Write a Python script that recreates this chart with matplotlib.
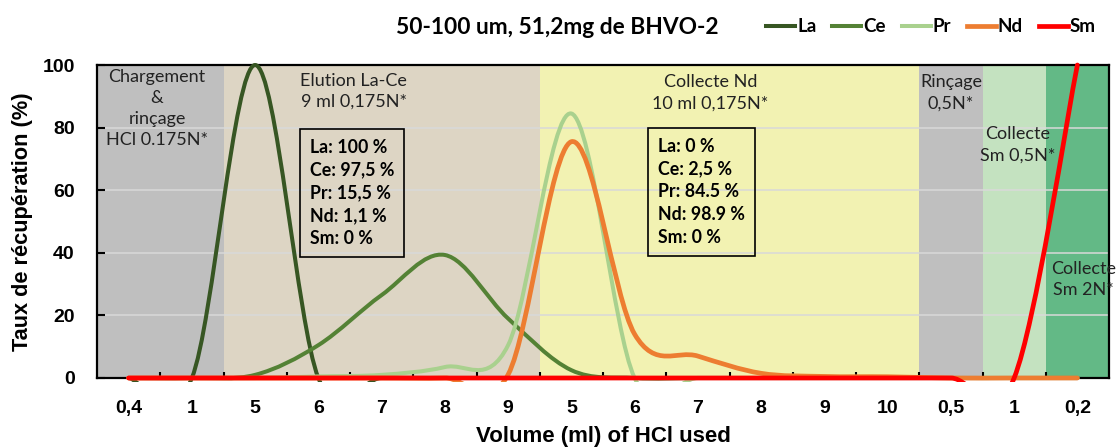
import numpy as np
import matplotlib
matplotlib.use("Agg")
import matplotlib.pyplot as plt
from matplotlib.path import Path
from matplotlib.patches import PathPatch, Rectangle
from matplotlib.lines import Line2D

# categories on the x axis (volumes of each fraction)
categories = ["0,4", "1", "5", "6", "7", "8", "9", "5", "6", "7", "8", "9", "10", "0,5", "1", "0,2"]

# recovery (%) per fraction
la = [0, 0, 100, 0, 0, 0, 0, 0, 0, 0, 0, 0, 0, 0, 0, 0]
ce = [0, 0, 1, 10.5, 26.5, 39.3, 19, 2.5, 0, 0, 0, 0, 0, 0, 0, 0]
pr = [0, 0, 0, 0.5, 1, 3.5, 10.5, 84.5, 0, 0, 0, 0, 0, 0, 0, 0]
nd = [0, 0, 0, 0, 0, 0, 1.1, 75.5, 14, 7, 1.5, 0.5, 0.4, 0, 0, 0]
sm = [0, 0, 0, 0, 0, 0, 0, 0, 0, 0, 0, 0, 0, 0, 0, 100]

series_names = ["La", "Ce", "Pr", "Nd", "Sm"]
series_colors = ["#375623", "#548235", "#A9D18E", "#ED7D31", "#FF0000"]
series_widths = [2.9, 2.9, 2.9, 3.4, 3.4]

# shaded steps: (first category, last category, colour)
steps_start = [0, 2, 7, 13, 14, 15]
steps_end = [1, 6, 12, 13, 14, 15]
steps_colors = ["#BFBFBF", "#DDD5C4", "#F2F2B2", "#BFBFBF", "#C4E2C0", "#63B986"]

box_elution = "La: 100 %\nCe: 97,5 %\nPr: 15,5 %\nNd: 1,1 %\nSm: 0 %"
box_collecte = "La: 0 %\nCe: 2,5 %\nPr: 84.5 %\nNd: 98.9 %\nSm: 0 %"

LABEL_FONT = ["Liberation Sans Narrow", "Liberation Sans", "DejaVu Sans"]
TEXT_FONT = ["Lato", "DejaVu Sans"]


def smooth_path(ys):
    """Excel-like smoothed line: cubic bezier through every category point."""
    pts = np.column_stack([np.arange(len(ys)), np.asarray(ys, dtype=float)])
    n = len(pts)
    verts = [pts[0]]
    codes = [Path.MOVETO]
    for i in range(n - 1):
        p0 = pts[max(i - 1, 0)]
        p1 = pts[i]
        p2 = pts[i + 1]
        p3 = pts[min(i + 2, n - 1)]
        verts += [p1 + (p2 - p0) / 6, p2 - (p3 - p1) / 6, p2]
        codes += [Path.CURVE4] * 3
    return Path(verts, codes)


fig = plt.figure(figsize=(11.19, 4.47), dpi=100)
ax = fig.add_axes([97 / 1119, 1 - 378 / 447, 1012 / 1119, 313 / 447])

for s, e, c in zip(steps_start, steps_end, steps_colors):
    ax.axvspan(s - 0.5, e + 0.5, color=c, lw=0, zorder=0.2)

ax.set_axisbelow(True)
ax.yaxis.grid(True, color="#D9D9D9", lw=1.1)

clip = Rectangle((0, -0.012), 1, 1.03, transform=ax.transAxes)
for ys, c, w in zip([la, ce, pr, nd, sm], series_colors, series_widths):
    patch = PathPatch(smooth_path(ys), fill=False, ec=c, lw=w, capstyle="round",
                      joinstyle="round", zorder=4)
    ax.add_patch(patch)
    patch.set_clip_path(clip)

ax.set_xlim(-0.5, len(categories) - 0.5)
ax.set_ylim(0, 100)

ax.set_xticks(range(len(categories)))
ax.set_xticklabels(categories, family=LABEL_FONT, fontweight="bold", fontsize=14)
ax.set_xticks(np.arange(0.5, len(categories) - 1, 1), minor=True)
ax.tick_params(axis="x", which="major", length=0, pad=16)
ax.tick_params(axis="x", which="minor", direction="in", length=4, width=1.5)
ax.set_yticks(range(0, 101, 20))
ax.set_yticklabels([str(v) for v in range(0, 101, 20)], family=LABEL_FONT,
                   fontweight="bold", fontsize=14)
ax.tick_params(axis="y", direction="in", length=6, width=1.5, pad=16)

for sp in ax.spines.values():
    sp.set_color("black")
    sp.set_linewidth(1.6)

ax.set_xlabel("Volume (ml) of HCl used", family=LABEL_FONT, fontweight="bold",
              fontsize=16, labelpad=6)
ax.set_ylabel("Taux de récupération (%)", family=LABEL_FONT, fontweight="bold",
              fontsize=15.7, labelpad=7)

# step annotations
txt = dict(family=TEXT_FONT, fontsize=13, ha="center", va="top", color="#222222",
           linespacing=1.4, zorder=5)
ax.text(0.45, 98.8, "Chargement\n&\nrinçage\nHCl 0.175N*", **txt)
ax.text(3.56, 97.5, "Elution La-Ce\n9 ml 0,175N*", **txt)
ax.text(9.2, 97, "Collecte Nd\n10 ml 0,175N*", **txt)
ax.text(13.0, 97, "Rinçage\n0,5N*", **txt)
ax.text(14.06, 80.5, "Collecte\nSm 0,5N*", **txt)
ax.text(15.1, 37.5, "Collecte\nSm 2N*", **txt)

box = dict(boxstyle="square,pad=0.55", fc="none", ec="black", lw=1.2)
ax.text(2.87, 76.5, box_elution, family=TEXT_FONT, fontsize=12.8, fontweight="bold",
        ha="left", va="top", linespacing=1.42, bbox=box, zorder=5)
ax.text(8.37, 76.8, box_collecte, family=TEXT_FONT, fontsize=12.8, fontweight="bold",
        ha="left", va="top", linespacing=1.42, bbox=box, zorder=5)

fig.text(557 / 1119, 1 - 27 / 447, "50-100 um, 51,2mg de BHVO-2", family=TEXT_FONT,
         fontsize=16.4, fontweight="bold", ha="center", va="center")

handles = [Line2D([], [], color=c, lw=w) for c, w in zip(series_colors, series_widths)]
fig.legend(handles, series_names, loc="center", bbox_to_anchor=(931 / 1119, 1 - 27 / 447),
           ncol=5, frameon=False, handlelength=1.55, handletextpad=0.1, columnspacing=0.85,
           prop=dict(family=TEXT_FONT, weight="bold", size=13.5))

fig.savefig("out.png", dpi=100)
